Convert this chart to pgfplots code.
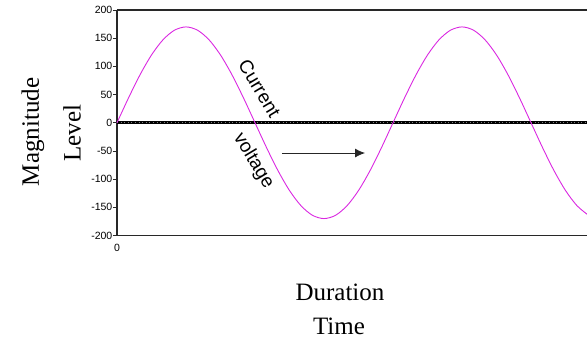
\documentclass[border=0pt]{standalone}
\usepackage{fontspec}
\setmainfont{Liberation Serif}
\newfontfamily\arial{Liberation Sans}
\usepackage{pgfplots}
\pgfplotsset{compat=1.18}
\usetikzlibrary{arrows.meta}
\definecolor{wave}{RGB}{218,40,225}
\definecolor{axcol}{RGB}{40,40,40}
\begin{document}
\begin{tikzpicture}
\clip (-117pt,-105.5pt) rectangle (470pt,235.5pt);
\begin{axis}[
  at={(0pt,0pt)}, anchor=south west,
  scale only axis, width=470pt, height=225.5pt,
  xmin=0, xmax=613, ymin=-200, ymax=200,
  axis x line*=box, axis y line*=left,
  axis line style={axcol, line width=1.3pt},
  ytick={-200,-150,-100,-50,0,50,100,150,200},
  yticklabels={-200,-150,-100,-50,0,50,100,150,200},
  xtick={0}, xticklabels={0},
  xtick pos=bottom, ytick pos=left,
  tick align=outside,
  major tick length=4pt,
  y tick style={axcol, line width=0.8pt},
  x tick style={draw=none},
  tick label style={font=\arial\fontsize{10.5}{11}\selectfont, text=black},
  yticklabel style={inner xsep=0.5pt},
  xticklabel style={yshift=-1pt},
  clip=false,
]
\addplot[black, line width=3pt] coordinates {(0,0) (613,0)};
\addplot[white!50!black, line width=0.6pt, dash pattern=on 1pt off 2.6pt] coordinates {(0,0) (613,0)};
\addplot[wave, line width=0.9pt, smooth] coordinates {
(0,0) (15,44.0) (30,85) (45,120.2) (60,147.2) (75,164.2) (90,170)
(105,164.2) (120,147.2) (135,120.2) (150,85) (165,44.0) (180,0)
(195,-44.0) (210,-85) (225,-120.2) (240,-147.2) (255,-164.2) (270,-170)
(285,-164.2) (300,-147.2) (315,-120.2) (330,-85) (345,-44.0) (360,0)
(375,44.0) (390,85) (405,120.2) (420,147.2) (435,164.2) (450,170)
(465,164.2) (480,147.2) (495,120.2) (510,85) (525,44.0) (540,0)
(555,-44.0) (570,-85) (585,-120.2) (600,-147.2) (615,-164.2)
};
\draw[black!85, line width=0.8pt, -{Latex[length=10pt,width=9pt]}] (axis cs:215,-53.7) -- (axis cs:323.5,-53.7);
\node[rotate=-59, font=\arial\fontsize{19}{21}\selectfont] at (axis cs:186,61) {Current};
\node[rotate=-59, font=\arial\fontsize{19}{21}\selectfont] at (axis cs:178,-67.9) {voltage};
\end{axis}
\node[rotate=90, font=\fontsize{25}{28}\selectfont] at (-84pt,103.5pt) {Magnitude};
\node[rotate=90, font=\fontsize{25}{28}\selectfont] at (-45pt,102.5pt) {Level};
\node[anchor=base, font=\fontsize{25}{28}\selectfont] at (223pt,-65.2pt) {Duration};
\node[anchor=base, font=\fontsize{25}{28}\selectfont] at (222pt,-98.5pt) {Time};
\end{tikzpicture}
\end{document}
